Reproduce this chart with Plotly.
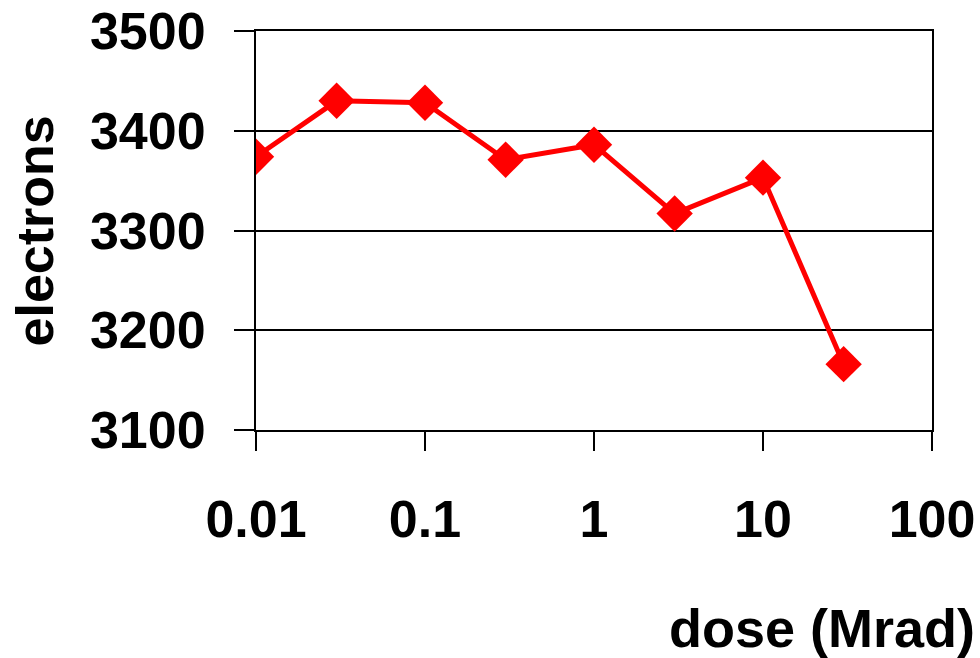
import plotly.graph_objects as go

# dose in Mrad, signal in electrons
dose = [0.01, 0.03, 0.1, 0.3, 1, 3, 10, 30]
electrons = [3374, 3430, 3428, 3371, 3386, 3317, 3353, 3166]

x_ticks = [0.01, 0.1, 1, 10, 100]
x_ticktext = ["0.01", "0.1", "1", "10", "100"]
y_ticks = [3100, 3200, 3300, 3400, 3500]

FONT = "Liberation Sans, Arial, sans-serif"
SIZE = 52

fig = go.Figure()

fig.add_trace(
    go.Scatter(
        x=dose,
        y=electrons,
        mode="lines+markers",
        line=dict(color="#ff0000", width=5),
        marker=dict(symbol="diamond", size=28, color="#ff0000"),
        showlegend=False
    )
)

fig.update_layout(
    width=980,
    height=658,
    margin=dict(l=256, r=48, t=31, b=228),
    paper_bgcolor="white",
    plot_bgcolor="white",
    font=dict(family=FONT, size=SIZE, color="black", weight="bold"),
    annotations=[
        dict(
            text="<b>electrons</b>",
            xref="paper", yref="paper",
            x=-0.327, y=0.5,
            xanchor="center", yanchor="middle",
            textangle=-90,
            showarrow=False,
            font=dict(family=FONT, size=SIZE, color="black")
        ),
        dict(
            text="<b>dose (Mrad)</b>",
            xref="paper", yref="paper",
            x=1.066, y=-0.495,
            xanchor="right", yanchor="middle",
            showarrow=False,
            font=dict(family=FONT, size=54, color="black")
        ),
    ]
)

fig.update_xaxes(
    type="log",
    range=[-2, 2],
    tickvals=x_ticks,
    ticktext=x_ticktext,
    ticks="outside",
    ticklen=19,
    tickwidth=2,
    tickcolor="black",
    ticklabelstandoff=24,
    ticklabeloverflow="allow",
    automargin=False,
    showline=True,
    linecolor="black",
    linewidth=2,
    mirror=True,
    showgrid=False,
    zeroline=False
)

fig.update_yaxes(
    range=[3100, 3500],
    tickvals=y_ticks,
    ticks="outside",
    ticklen=20,
    tickwidth=2,
    tickcolor="black",
    ticklabelstandoff=18,
    ticklabeloverflow="allow",
    automargin=False,
    showline=True,
    linecolor="black",
    linewidth=2,
    mirror=True,
    showgrid=True,
    gridcolor="black",
    gridwidth=2,
    zeroline=False
)

# drop the default body margin so the figure fills the window exactly
fig.write_html(
    "out.html",
    config={"displayModeBar": False},
    post_script="document.body.style.margin = '0';"
)
